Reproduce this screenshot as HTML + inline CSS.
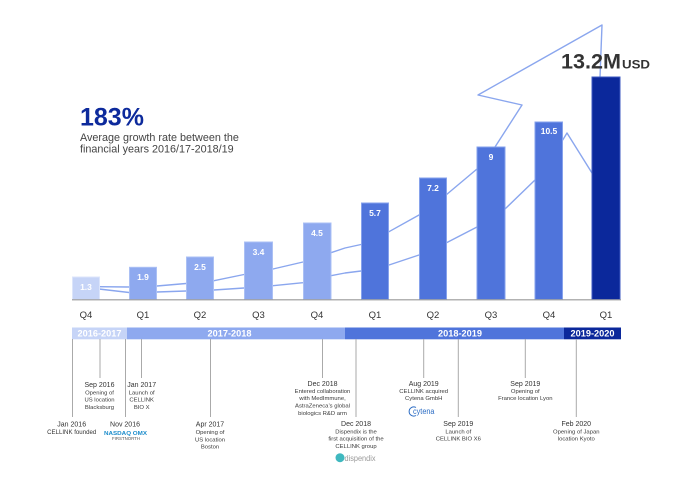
<!DOCTYPE html>
<html><head><meta charset="utf-8"><style>
html,body{margin:0;padding:0;background:#fff;}
svg{display:block;font-family:"Liberation Sans",sans-serif;}
</style></head><body>
<svg width="690" height="487" viewBox="0 0 690 487" xmlns="http://www.w3.org/2000/svg">
<rect width="690" height="487" fill="#fff"/>

<!-- headline -->
<text x="80" y="125.3" font-size="25" font-weight="bold" fill="#0d2a9c">183%</text>
<text x="80" y="141" font-size="10.8" fill="#444">Average growth rate between the</text>
<text x="80" y="152.7" font-size="10.8" fill="#444">financial years 2016/17-2018/19</text>

<!-- arrow lines -->
<g fill="none" stroke="#8aa6ee" stroke-width="1.4" stroke-linejoin="round" stroke-linecap="round">
<polyline points="90,286.5 99,286.7 129,287 157,286 186,283.5 214,280.7 244,274.5 273,269 303,262 331,252.7 345,248 361,244.5 389,231.7 419,215 446,195 477,169 495,147 522,105 478,95 602,25 600,77"/>
<polyline points="90,288.5 99,289 129,292.5 157,292 186,291 214,290 244,288 273,285.7 303,282.7 331,275.7 345,273 361,271 389,265 419,255 446,243 477,227 505,209 535,180 562.7,140 567,133 592,173"/>
</g>

<!-- bars -->
<g stroke-width="1">
<rect x="72.5" y="277" width="27" height="22.5" fill="#c6d4f7" stroke="#dce5fb"/>
<rect x="129.5" y="267.3" width="27" height="32.2" fill="#8ea9ef" stroke="#abc0f4"/>
<rect x="186.5" y="257" width="27" height="42.5" fill="#8ea9ef" stroke="#abc0f4"/>
<rect x="244.5" y="242" width="28" height="57.5" fill="#8ea9ef" stroke="#abc0f4"/>
<rect x="303.5" y="223" width="27.5" height="76.5" fill="#8ea9ef" stroke="#abc0f4"/>
<rect x="361.5" y="203" width="27" height="96.5" fill="#4f74db" stroke="#86a2ec"/>
<rect x="419.5" y="178" width="27" height="121.5" fill="#4f74db" stroke="#86a2ec"/>
<rect x="477" y="147" width="28" height="152.5" fill="#4f74db" stroke="#86a2ec"/>
<rect x="535" y="122" width="27.5" height="177.5" fill="#4f74db" stroke="#86a2ec"/>
<rect x="592" y="77" width="28" height="222.5" fill="#0b289b" stroke="#3c59c2"/>
</g>

<!-- bar values -->
<g font-size="8.5" font-weight="bold" fill="#fff" text-anchor="middle">
<text x="86" y="290">1.3</text>
<text x="143" y="280">1.9</text>
<text x="200" y="270">2.5</text>
<text x="258.5" y="255">3.4</text>
<text x="317" y="236">4.5</text>
<text x="375" y="216">5.7</text>
<text x="433" y="191">7.2</text>
<text x="491" y="160">9</text>
<text x="549" y="134">10.5</text>
</g>

<!-- total -->
<text x="561" y="68.3" font-size="21.5" font-weight="bold" fill="#333" textLength="60" lengthAdjust="spacingAndGlyphs">13.2M</text>
<text x="622" y="68.3" font-size="12" font-weight="bold" fill="#333" textLength="28" lengthAdjust="spacingAndGlyphs">USD</text>

<!-- baseline -->
<line x1="72" y1="299.8" x2="621" y2="299.8" stroke="#999" stroke-width="1.2"/>

<!-- quarters -->
<g font-size="9.5" fill="#333" text-anchor="middle">
<text x="86" y="318">Q4</text>
<text x="143" y="318">Q1</text>
<text x="200" y="318">Q2</text>
<text x="258.5" y="318">Q3</text>
<text x="317" y="318">Q4</text>
<text x="375" y="318">Q1</text>
<text x="433" y="318">Q2</text>
<text x="491" y="318">Q3</text>
<text x="549" y="318">Q4</text>
<text x="606" y="318">Q1</text>
</g>

<!-- year bands -->
<rect x="72" y="327.5" width="55" height="11.8" fill="#c6d4f7"/>
<rect x="127" y="327.5" width="218" height="11.8" fill="#8ea9ef"/>
<rect x="345" y="327.5" width="219" height="11.8" fill="#4f74db"/>
<rect x="564" y="327.5" width="57" height="11.8" fill="#0b289b"/>
<g font-size="9.2" font-weight="bold" fill="#fff" text-anchor="middle">
<text x="99.5" y="336.5">2016-2017</text>
<text x="229.5" y="336.5">2017-2018</text>
<text x="460" y="336.5">2018-2019</text>
<text x="592.5" y="336.5">2019-2020</text>
</g>

<!-- timeline verticals -->
<g stroke="#aaa" stroke-width="1">
<line x1="72.5" y1="339" x2="72.5" y2="417"/>
<line x1="100" y1="339" x2="100" y2="378"/>
<line x1="125.5" y1="339" x2="125.5" y2="417"/>
<line x1="141.5" y1="339" x2="141.5" y2="378"/>
<line x1="210.5" y1="339" x2="210.5" y2="417"/>
<line x1="322.5" y1="339" x2="322.5" y2="378"/>
<line x1="356" y1="339" x2="356" y2="417"/>
<line x1="423.7" y1="339" x2="423.7" y2="378"/>
<line x1="458.3" y1="339" x2="458.3" y2="417"/>
<line x1="525.3" y1="339" x2="525.3" y2="378"/>
<line x1="576.3" y1="339" x2="576.3" y2="417"/>
</g>

<!-- upper tier labels -->
<g text-anchor="middle" fill="#333">
<g font-size="7">
<text x="99.5" y="387">Sep 2016</text>
<text x="141.7" y="387">Jan 2017</text>
<text x="322.5" y="386">Dec 2018</text>
<text x="423.7" y="386">Aug 2019</text>
<text x="525.3" y="386">Sep 2019</text>
</g>
<g font-size="5.9" fill="#3a3a3a">
<text x="99.5" y="394.3">Opening of</text>
<text x="99.5" y="401.6">US location</text>
<text x="99.5" y="408.9">Blacksburg</text>
<text x="141.7" y="394.3">Launch of</text>
<text x="141.7" y="401.6">CELLINK</text>
<text x="141.7" y="408.9">BIO X</text>
<text x="322.5" y="392.9">Entered collaboration</text>
<text x="322.5" y="400.2">with MedImmune,</text>
<text x="322.5" y="407.5">AstraZeneca’s global</text>
<text x="322.5" y="414.8">biologics R&amp;D arm</text>
<text x="423.7" y="392.9">CELLINK acquired</text>
<text x="423.7" y="400.2">Cytena GmbH</text>
<text x="525.3" y="392.9">Opening of</text>
<text x="525.3" y="400.2">France location Lyon</text>
</g>

<!-- lower tier labels -->
<g font-size="7">
<text x="71.7" y="426.7">Jan 2016</text>
<text x="125" y="426.7">Nov 2016</text>
<text x="210" y="426.7">Apr 2017</text>
<text x="356" y="426.2">Dec 2018</text>
<text x="458.3" y="426.2">Sep 2019</text>
<text x="576.3" y="426.2">Feb 2020</text>
</g>
<text x="71.7" y="434" font-size="6.1" fill="#333">CELLINK founded</text>
<g font-size="5.9" fill="#3a3a3a">
<text x="210" y="434">Opening of</text>
<text x="210" y="441.3">US location</text>
<text x="210" y="448.6">Boston</text>
<text x="356" y="433.3">Dispendix is the</text>
<text x="356" y="440.6">first acquisition of the</text>
<text x="356" y="447.9">CELLINK group</text>
<text x="458.3" y="433.3">Launch of</text>
<text x="458.3" y="440.6">CELLINK BIO X6</text>
<text x="576.3" y="433.3">Opening of Japan</text>
<text x="576.3" y="440.6">location Kyoto</text>
</g>
</g>

<!-- NASDAQ logo -->
<text x="104" y="435" font-size="5.5" font-weight="bold" fill="#1b8ccb" textLength="43" lengthAdjust="spacingAndGlyphs">NASDAQ OMX</text>
<text x="112" y="439.8" font-size="4.4" fill="#555" textLength="28" lengthAdjust="spacingAndGlyphs">FIRSTNORTH</text>

<!-- cytena logo -->
<path d="M416,407.5 A4.6,4.6 0 1 0 416,415.5" fill="none" stroke="#2b6cc4" stroke-width="1"/>
<text x="413" y="414" font-size="8" fill="#2b6cc4" textLength="21.5" lengthAdjust="spacingAndGlyphs">cytena</text>

<!-- dispendix logo -->
<circle cx="340" cy="457.7" r="4.5" fill="#3fb8bf"/>
<text x="344.5" y="461" font-size="8" fill="#9a9a9a" textLength="31" lengthAdjust="spacingAndGlyphs">dispendix</text>
</svg>
</body></html>
